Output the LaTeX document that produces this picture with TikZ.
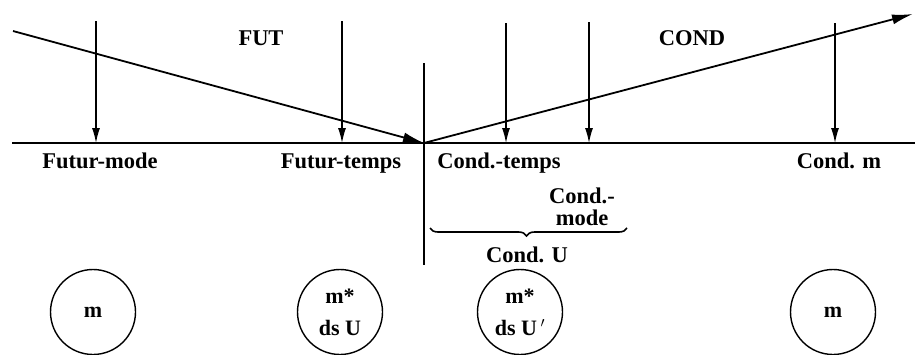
\documentclass[tikz,border=0pt]{standalone}
\usepackage{fontspec}
\setmainfont{Liberation Serif}
\usetikzlibrary{arrows.meta,decorations.pathreplacing}
\begin{document}
\begin{tikzpicture}[x=1pt,y=-1pt,
  lbl/.style={font=\fontsize{22.5}{22}\selectfont\bfseries, inner sep=0pt},
  downarr/.style={line width=1.3pt, -{Latex[length=15pt,width=8pt]}},
  mainarr/.style={line width=1.8pt, -{Latex[length=21pt,width=10pt]}},
  ring/.style={draw, circle, line width=1.4pt, minimum size=85pt, inner sep=0pt, align=center,
    font=\fontsize{22}{32}\selectfont\bfseries}]
\useasboundingbox (0,0) rectangle (915,354);
% axes
\coordinate (blL) at (12,143);
\coordinate (blR) at (915,143);
\coordinate (O) at (424,143);
\coordinate (vT) at (424,63);
\coordinate (vB) at (424,265);
\draw[line width=2pt] (blL) -- (blR);
\draw[line width=2.6pt] (vT) -- (vB);
% main arrows
\coordinate (futS) at (13,31);
\coordinate (condE) at (913,14);
\draw[mainarr] (futS) -- (O);
\draw[mainarr] (O) -- (condE);
% down arrows
\coordinate (fmT) at (96,21);   \coordinate (fmB) at (96,143);
\coordinate (ftT) at (342,21);  \coordinate (ftB) at (342,143);
\coordinate (ctT) at (506,23);  \coordinate (ctB) at (506,143);
\coordinate (cmT) at (589,22);  \coordinate (cmB) at (589,143);
\coordinate (cnT) at (835,23);  \coordinate (cnB) at (835,143);
\draw[downarr] (fmT) -- (fmB);
\draw[downarr] (ftT) -- (ftB);
\draw[downarr] (ctT) -- (ctB);
\draw[downarr] (cmT) -- (cmB);
\draw[downarr] (cnT) -- (cnB);
% labels
\node[lbl, anchor=base] (fut) at (261,45) {FUT};
\node[lbl, anchor=base] (cond) at (692,45) {COND};
\node[lbl, anchor=base] (futmode) at (100,168) {Futur-mode};
\node[lbl, anchor=base] (futtemps) at (341,168) {Futur-temps};
\node[lbl, anchor=base] (condtemps) at (499,168) {Cond.-temps};
\node[lbl, anchor=base] (condm) at (839,168) {Cond. m};
\node[lbl, align=center] (condmode) at (582,207) {Cond.-\\mode};
% brace
\coordinate (brL) at (430,228);
\coordinate (brR) at (627,228);
\draw[line width=1.6pt, decorate, decoration={brace, mirror, amplitude=8pt, aspect=0.49}] (brL) -- (brR);
\node[lbl, anchor=base] (condU) at (527,262) {Cond. U};
% circles
\node[ring] (c1) at (93,312) {m};
\node[ring] (c2) at (340,312) {m*\\ds U};
\node[ring] (c3) at (520,312) {m*\\ds U$\,'$};
\node[ring] (c4) at (833,312) {m};
\end{tikzpicture}
\end{document}
